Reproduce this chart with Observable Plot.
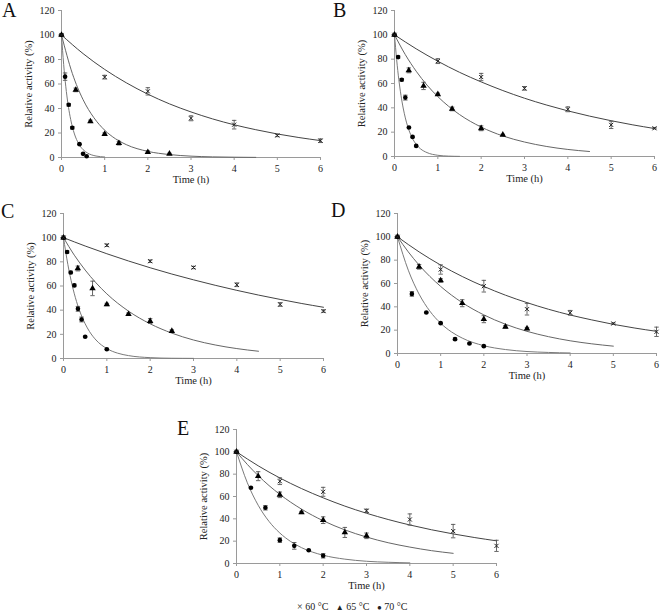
<!DOCTYPE html>
<html>
<head>
<meta charset="utf-8">
<script src="https://cdn.jsdelivr.net/npm/d3@7"></script>
<script src="https://cdn.jsdelivr.net/npm/@observablehq/plot@0.6"></script>
<style>
  body { margin: 0; background: #fff; }
  #wrap { position: relative; width: 660px; height: 612px; background: #fff; overflow: hidden; font-family: 'Liberation Serif', 'Times New Roman', serif; }
  .pn { position: absolute; }
  .pn, .pn text { font-family: 'Liberation Serif', 'Times New Roman', serif !important; }
  .letter { position: absolute; font-size: 20px; line-height: 20px; color: #111; }
  #legend { position: absolute; font-size: 10px; line-height: 12px; color: #222; white-space: pre; }
</style>
</head>
<body>
<div id="wrap"></div>
<script>
const panelLetters = ["A", "B", "C", "D", "E"];
const timeTicks = [0, 1, 2, 3, 4, 5, 6];
const activityTicks = [0, 20, 40, 60, 80, 100, 120];
const legendLabels = ["60 °C", "65 °C", "70 °C"];
const xTitle = "Time (h)";
const yTitle = "Relative activity (%)";

// measured points: [time (h), relative activity (%), error]
const A60 = [[0,100,0],[1,65.6,1.5],[2,54,3],[3,32,2],[4,26.8,3.5],[5,18,1],[6,13.7,1.5]];
const A65 = [[0,100,0],[0.33,55.2,1.5],[0.67,29.5,1],[1,19.1,1],[1.33,11.7,1.5],[2,4.4,1],[2.5,3,0.5]];
const A70 = [[0,100,0],[0.083,66,3],[0.167,43,1],[0.25,24.3,1],[0.417,10.9,0.5],[0.5,3,0.5],[0.583,1,0]];

const B60 = [[0,100,0],[1,78.4,2],[2,65.3,3],[3,56,1.5],[4,38.8,2],[5,26,3],[6,23.2,0.5]];
const B65 = [[0,100,0],[0.33,70.8,2],[0.67,58,3],[1,51.1,1],[1.33,39.1,1.5],[2,23.2,2],[2.5,17.8,0.5]];
const B70 = [[0,100,0],[0.083,81.7,1],[0.167,63.1,1],[0.25,48.4,2],[0.333,23.8,0.5],[0.417,16.1,0.5],[0.5,8.7,0.5]];

const C60 = [[0,100,0],[1,93.7,1],[2,80.5,1],[3,75.3,1],[4,61,1.5],[5,44.7,1.5],[6,39.2,1]];
const C65 = [[0,100,0],[0.33,74.5,2],[0.67,58,6],[1,44.7,1],[1.5,36.7,1],[2,31,2],[2.5,22.7,1]];
const C70 = [[0,100,0],[0.083,88.2,1],[0.167,71.2,1],[0.25,60.5,1],[0.333,41.1,2],[0.417,32.3,2],[0.5,18,0.5],[1,7.7,0.5]];

const D60 = [[0,100,0],[1,72,4],[2,57.7,5],[3,38,5],[4,34.9,2],[5,25.7,0.5],[6,18.6,4]];
const D65 = [[0,100,0],[0.5,74.3,2],[1,62.6,1.5],[1.5,43.1,3],[2,29.4,3],[2.5,22.9,1],[3,21.4,1]];
const D70 = [[0,100,0],[0.333,51.1,2],[0.667,35.1,0.5],[1,26,0.5],[1.333,12.3,1],[1.667,8.6,0.5],[2,6.3,0.5]];

const E60 = [[0,100,0],[1,73.7,3],[2,64.2,4],[3,47.2,1.5],[4,39.4,5],[5,29,6],[6,15.8,5]];
const E65 = [[0,100,0],[0.5,78.2,4],[1,61.5,2.5],[1.5,45.7,1],[2,38.8,3],[2.5,27.8,4.5],[3,24.8,2.5]];
const E70 = [[0,100,0],[0.333,67.8,0.5],[0.667,49.9,2],[1,20.9,2],[1.333,15.8,3],[1.667,11.9,0.5],[2,6.9,2]];

// fitted decay curves: [time (h), relative activity (%)]
const fitA60 = [[0,100],[0.5,84.8],[1,71.9],[1.5,61.0],[2,51.7],[2.5,43.8],[3,37.2],[3.5,31.5],[4,26.7],[4.5,22.7],[5,19.2],[5.5,16.3],[6,13.8]];
const fitA65 = [[0,100],[0.25,68.7],[0.5,47.2],[0.75,32.5],[1,22.3],[1.25,15.3],[1.5,10.5],[2,5.0],[2.5,2.4],[3,1.1],[3.5,0.5],[4,0.25],[4.5,0.1]];
const fitA70 = [[0,100],[0.05,76],[0.1,57.7],[0.15,43.8],[0.2,33.3],[0.25,25.3],[0.3,19.2],[0.4,11.1],[0.5,6.4],[0.6,3.7],[0.7,2.1],[0.8,1.2],[1,0.4]];

const fitB60 = [[0,100],[0.5,88.5],[1,78.3],[1.5,69.2],[2,61.3],[2.5,54.2],[3,47.9],[3.5,42.4],[4,37.5],[4.5,33.2],[5,29.4],[5.5,26.0],[6,23.0]];
const fitB65 = [[0,100],[0.25,83.7],[0.5,70.1],[0.75,58.7],[1,49.2],[1.5,34.5],[2,24.2],[2.5,16.9],[3,11.9],[3.5,8.3],[4,5.8],[4.5,4.1]];
const fitB70 = [[0,100],[0.05,79.5],[0.1,63.1],[0.15,50.2],[0.2,39.9],[0.25,31.7],[0.3,25.2],[0.4,15.9],[0.5,10],[0.6,6.3],[0.75,3.2],[1,1],[1.25,0.3],[1.5,0.1]];

const fitC60 = [[0,100],[0.5,93.1],[1,86.7],[1.5,80.7],[2,75.1],[2.5,69.9],[3,65.1],[3.5,60.6],[4,56.4],[4.5,52.5],[5,48.9],[5.5,45.5],[6,42.4]];
const fitC65 = [[0,100],[0.25,85.5],[0.5,73.2],[0.75,62.6],[1,53.5],[1.5,39.2],[2,28.7],[2.5,21.0],[3,15.3],[3.5,11.2],[4,8.2],[4.5,6.0]];
const fitC70 = [[0,100],[0.1,77.9],[0.2,60.7],[0.3,47.2],[0.4,36.8],[0.5,28.7],[0.6,22.3],[0.75,15.3],[1,8.2],[1.25,4.4],[1.5,2.4],[2,0.7],[2.5,0.2],[3,0.1]];

const fitD60 = [[0,100],[0.5,87.1],[1,75.8],[1.5,66.0],[2,57.5],[2.5,50.0],[3,43.6],[3.5,37.9],[4,33.0],[4.5,28.8],[5,25.0],[5.5,21.8],[6,19.0]];
const fitD65 = [[0,100],[0.25,87.1],[0.5,75.8],[1,57.5],[1.5,43.6],[2,33.1],[2.5,25.1],[3,19.0],[3.5,14.4],[4,10.9],[4.5,8.3],[5,6.3]];
const fitD70 = [[0,100],[0.25,71.4],[0.5,50.9],[0.75,36.3],[1,25.9],[1.25,18.5],[1.5,13.2],[2,6.7],[2.5,3.4],[3,1.7],[3.5,0.9],[4,0.45]];

const fitE60 = [[0,100],[0.5,87.5],[1,76.6],[1.5,67.1],[2,58.8],[2.5,51.4],[3,45.0],[3.5,39.4],[4,34.5],[4.5,30.2],[5,26.5],[5.5,23.2],[6,20.3]];
const fitE65 = [[0,100],[0.25,88.7],[0.5,78.7],[1,61.9],[1.5,48.7],[2,38.3],[2.5,30.1],[3,23.7],[3.5,18.6],[4,14.7],[4.5,11.5],[5,9.1]];
const fitE70 = [[0,100],[0.25,72.3],[0.5,52.2],[0.75,37.7],[1,27.3],[1.25,19.7],[1.5,14.2],[2,7.4],[2.5,3.9],[3,2.0],[3.5,1.1],[4,0.55]];

const panelData = {
  A: [A60, A65, A70, fitA60, fitA65, fitA70],
  B: [B60, B65, B70, fitB60, fitB65, fitB70],
  C: [C60, C65, C70, fitC60, fitC65, fitC70],
  D: [D60, D65, D70, fitD60, fitD65, fitD70],
  E: [E60, E65, E70, fitE60, fitE65, fitE70]
};

// layout of each panel in the page
const layout = {
  A: {left: 0,   top: 0,   w: 330, h: 190, l: 61, r: 10, t: 10, b: 33, lx: 2,   ly: 0},
  B: {left: 330, top: 0,   w: 330, h: 190, l: 64, r: 6,  t: 10, b: 34, lx: 333, ly: 0},
  C: {left: 0,   top: 190, w: 330, h: 200, l: 63, r: 7,  t: 23, b: 32, lx: 1,   ly: 201},
  D: {left: 330, top: 190, w: 330, h: 196, l: 67, r: 4,  t: 23, b: 33, lx: 331, ly: 200},
  E: {left: 170, top: 400, w: 330, h: 200, l: 66, r: 4,  t: 29, b: 37, lx: 177, ly: 418}
};

const serif = "'Liberation Serif', 'Times New Roman', serif";

const capSymbol = {
  draw(ctx, size) {
    const w = Math.sqrt(size / Math.PI);
    ctx.moveTo(-w, 0);
    ctx.lineTo(w, 0);
  }
};

function panel(key) {
  const [d60, d65, d70, f60, f65, f70] = panelData[key];
  const m = layout[key];
  const errs = [...d60, ...d65, ...d70].filter(d => d[2] > 0);
  const caps = errs.flatMap(d => [[d[0], d[1] + d[2]], [d[0], d[1] - d[2]]]);
  return Plot.plot({
    width: m.w, height: m.h,
    marginLeft: m.l, marginRight: m.r, marginTop: m.t, marginBottom: m.b,
    x: {domain: [0, 6]},
    y: {domain: [0, 120]},
    style: `font-family: ${serif}; font-size: 10px; color: #222; background: transparent; overflow: visible;`,
    marks: [
      Plot.ruleY([0], {stroke: "#9a9a9a"}),
      Plot.ruleX([0], {stroke: "#9a9a9a"}),
      Plot.axisX(timeTicks, {tickSize: 3, tickPadding: 4, stroke: "#9a9a9a", fill: "#222", label: null, fontFamily: serif}),
      Plot.axisY(activityTicks, {tickSize: 3, tickPadding: 4, stroke: "#9a9a9a", fill: "#222", label: null, fontFamily: serif}),
      Plot.text([xTitle], {frameAnchor: "bottom", dy: 25, fill: "#222", fontSize: 10.5, fontFamily: serif}),
      Plot.text([yTitle], {frameAnchor: "left", dx: -33, rotate: -90, textAnchor: "middle", fill: "#222", fontSize: 10.5, fontFamily: serif}),
      Plot.line(f70, {x: d => d[0], y: d => d[1], stroke: "#7a7a7a", strokeWidth: 1, curve: "monotone-x"}),
      Plot.line(f65, {x: d => d[0], y: d => d[1], stroke: "#666", strokeWidth: 1, curve: "monotone-x"}),
      Plot.line(f60, {x: d => d[0], y: d => d[1], stroke: "#444", strokeWidth: 1, curve: "monotone-x"}),
      Plot.ruleX(errs, {x: d => d[0], y1: d => d[1] - d[2], y2: d => d[1] + d[2], stroke: "#555", strokeWidth: 0.9}),
      Plot.dot(caps, {x: d => d[0], y: d => d[1], symbol: capSymbol, r: 2.2, stroke: "#555", strokeWidth: 0.9, fill: "none"}),
      Plot.dot(d70, {x: d => d[0], y: d => d[1], symbol: "circle", r: 2.3, fill: "#000", stroke: "none"}),
      Plot.dot(d65, {x: d => d[0], y: d => d[1], symbol: "triangle", r: 2.4, fill: "#000", stroke: "none"}),
      Plot.dot(d60, {x: d => d[0], y: d => d[1], symbol: "times", r: 2, stroke: "#222", strokeWidth: 1})
    ]
  });
}

const wrap = document.getElementById("wrap");
for (const key of panelLetters) {
  const m = layout[key];
  const chart = panel(key);
  chart.classList.add("pn");
  chart.style.position = "absolute";
  chart.style.left = m.left + "px";
  chart.style.top = m.top + "px";
  wrap.appendChild(chart);
  const lab = document.createElement("div");
  lab.className = "letter";
  lab.style.left = m.lx + "px";
  lab.style.top = m.ly + "px";
  lab.textContent = key;
  wrap.appendChild(lab);
}

const legend = document.createElement("div");
legend.id = "legend";
legend.style.left = "297px";
legend.style.top = "601px";
const legendSymbols = ["×", "▲", "●"];
legend.innerHTML = legendLabels.map((l, i) =>
  `<span style="font-size:${i === 0 ? 10 : 8}px">${legendSymbols[i]}</span> ${l}`).join("   ");
wrap.appendChild(legend);
</script>
</body>
</html>
